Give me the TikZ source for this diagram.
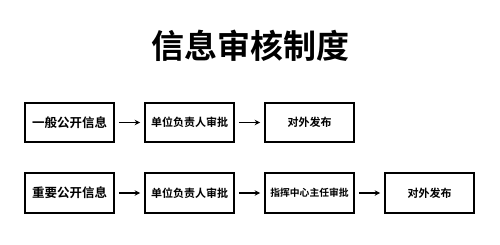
\documentclass[tikz,border=0pt]{standalone}
\usepackage{fontspec}
\newfontfamily\cjk{Noto Sans CJK SC}[BoldFont={Noto Sans CJK SC Bold}]
\usetikzlibrary{arrows.meta, positioning}
\tikzset{
    stepbox/.style={
        rectangle, minimum width=89pt, minimum height=39.5pt, inner sep=0pt,
        text centered, draw=black, line width=1.6pt,
        font=\cjk\bfseries\fontsize{11pt}{13pt}\selectfont
    },
    startbox/.style={
        stepbox, font=\cjk\bfseries\fontsize{12.5pt}{14pt}\selectfont
    },
    longbox/.style={
        stepbox, font=\cjk\bfseries\fontsize{9.8pt}{12pt}\selectfont
    },
    arrow/.style={
        -{Stealth[length=5.5pt, width=5.5pt]}, line width=1.8pt, draw=black,
        shorten >=4pt, shorten <=4pt
    },
    titletext/.style={
        font=\cjk\bfseries\fontsize{33pt}{36pt}\selectfont
    }
}
\begin{document}
\begin{tikzpicture}[node distance=29.4pt and 29.4pt]
    \useasboundingbox[fill=white] (0,0) rectangle (500pt,244pt);

    \node[titletext] (title) at (250pt,198pt) {信息审核制度};

    % ordinary information
    \node[startbox] (gen)      at (69.5pt,121.5pt) {一般公开信息};
    \node[stepbox, right=of gen]  (genunit)  {单位负责人审批};
    \node[stepbox, right=of genunit] (genpub) {对外发布};

    % important information
    \node[startbox, below=of gen]    (imp)      {重要公开信息};
    \node[stepbox, right=of imp]     (impunit)  {单位负责人审批};
    \node[longbox, right=of impunit] (impdir)   {指挥中心主任审批};
    \node[stepbox, right=of impdir]  (imppub)   {对外发布};

    \draw[arrow] (gen)     -- (genunit);
    \draw[arrow] (genunit) -- (genpub);
    \draw[arrow] (imp)     -- (impunit);
    \draw[arrow] (impunit) -- (impdir);
    \draw[arrow] (impdir)  -- (imppub);
\end{tikzpicture}
\end{document}
